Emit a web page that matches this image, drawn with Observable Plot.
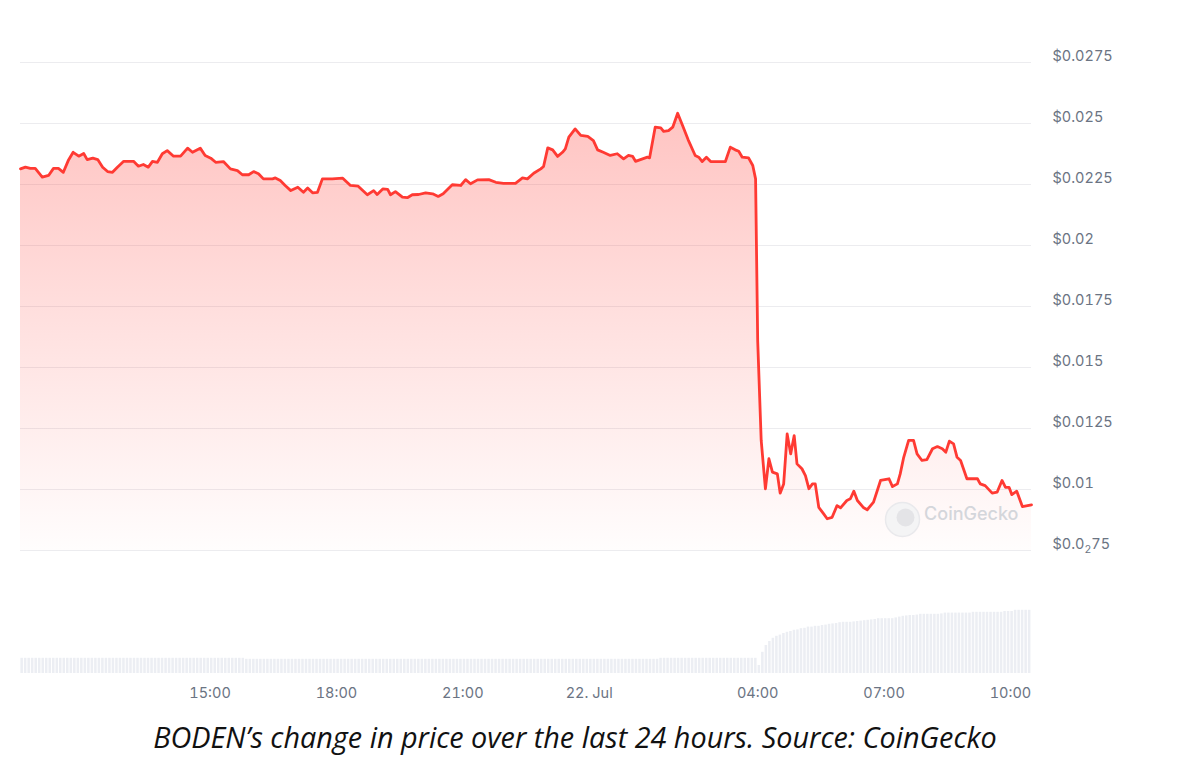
<!DOCTYPE html>
<html><head><meta charset="utf-8">
<script src="https://cdn.jsdelivr.net/npm/d3@7"></script>
<script src="https://cdn.jsdelivr.net/npm/@observablehq/plot@0.6"></script>
<style>
html,body{margin:0;padding:0;background:#fff;}
#wrap{position:relative;width:1180px;height:772px;overflow:hidden;font-family:Inter,"Noto Sans",sans-serif;}
#price{position:absolute;left:0;top:0;}
#vol{position:absolute;left:0;top:560px;}
#caption{position:absolute;left:0;top:717px;width:1150px;text-align:center;font-family:"Open Sans",sans-serif;font-style:italic;font-size:28.8px;line-height:40px;color:#111;}
</style></head>
<body>
<div id="wrap"><div id="price"></div><div id="vol"></div><div id="caption">BODEN’s change in price over the last 24 hours. Source: CoinGecko</div></div>
<script>
// ---- data ----
const startTime = new Date(2024, 6, 21, 10, 30); // 21 Jul 10:30 local
const endTime = new Date(2024, 6, 22, 10, 30);

// minutes after 21 Jul 10:30
const priceMinutes = [0,7,14,21,31,40,47,54,61,68,75,83,90,95,103,110,117,124,131,138,147,157,161,168,175,182,188,195,202,209,218,228,238,245,256,263,271,278,289,299,309,316,325,332,339,346,359,363,370,377,385,395,403,409,416,423,430,444,459,470,481,494,503,508,516,523,527,534,544,551,558,567,577,587,595,602,615,627,634,641,651,667,677,688,705,715,722,731,741,745,751,758,765,772,776,781,790,798,808,816,822,830,840,850,859,866,872,876,886,893,896,904,912,916,923,929,936,943,951,961,966,971,977,983,993,1004,1011,1018,1023,1028,1037,1043,1047,1050,1055,1061,1066,1071,1078,1082,1087,1092,1097,1102,1106,1113,1118,1123,1128,1132,1137,1144,1149,1156,1163,1168,1177,1182,1187,1192,1201,1206,1215,1225,1237,1242,1249,1253,1258,1265,1272,1277,1284,1291,1299,1306,1313,1318,1323,1329,1334,1339,1348,1363,1367,1374,1384,1391,1398,1403,1408,1412,1419,1427,1440];
// price in USD
const prices = [0.02314,0.02321,0.02316,0.02316,0.02280,0.02287,0.02316,0.02316,0.02300,0.02348,0.02382,0.02366,0.02377,0.02352,0.02358,0.02352,0.02321,0.02303,0.02300,0.02321,0.02345,0.02345,0.02345,0.02325,0.02332,0.02321,0.02345,0.02341,0.02376,0.02389,0.02366,0.02366,0.02399,0.02382,0.02399,0.02369,0.02358,0.02341,0.02344,0.02314,0.02307,0.02290,0.02290,0.02303,0.02294,0.02273,0.02273,0.02277,0.02266,0.02246,0.02225,0.02239,0.02218,0.02236,0.02216,0.02218,0.02273,0.02273,0.02276,0.02246,0.02243,0.02208,0.02225,0.02209,0.02232,0.02230,0.02208,0.02221,0.02198,0.02196,0.02208,0.02209,0.02216,0.02212,0.02201,0.02212,0.02249,0.02246,0.02270,0.02253,0.02269,0.02270,0.02259,0.02255,0.02255,0.02277,0.02273,0.02296,0.02314,0.02324,0.02400,0.02392,0.02365,0.02382,0.02396,0.02444,0.02478,0.02451,0.02447,0.02430,0.02392,0.02382,0.02369,0.02376,0.02355,0.02369,0.02365,0.02345,0.02355,0.02362,0.02359,0.02485,0.02482,0.02468,0.02471,0.02485,0.02542,0.02492,0.02433,0.02369,0.02362,0.02344,0.02362,0.02344,0.02344,0.02344,0.02403,0.02392,0.02386,0.02362,0.02359,0.02328,0.02273,0.01611,0.01201,0.01003,0.01126,0.01071,0.01064,0.00985,0.01023,0.01228,0.01146,0.01221,0.01105,0.01085,0.01057,0.01003,0.01023,0.01023,0.00927,0.00900,0.00880,0.00886,0.00934,0.00925,0.00955,0.00962,0.00993,0.00955,0.00925,0.00917,0.00948,0.01037,0.01044,0.01012,0.01023,0.01064,0.01132,0.01201,0.01201,0.01146,0.01119,0.01122,0.01167,0.01176,0.01167,0.01153,0.01198,0.01187,0.01132,0.01119,0.01044,0.01044,0.01023,0.01016,0.00985,0.00989,0.01037,0.01009,0.01009,0.00979,0.00993,0.00930,0.00937];

// 24h volume (million USD), one bar per 5 minutes
const volumeStepMinutes = 5;
const volumes = [
3.8,3.8,3.8,3.8,3.8,3.8,3.8,3.8,3.8,3.8,3.8,3.8,3.8,3.8,3.8,3.8,
3.8,3.8,3.8,3.8,3.8,3.8,3.8,3.8,3.8,3.8,3.8,3.8,3.8,3.8,3.8,3.8,
3.8,3.8,3.8,3.8,3.8,3.8,3.8,3.8,3.8,3.8,3.8,3.8,3.8,3.8,3.8,3.8,
3.8,3.8,3.8,3.8,3.8,3.8,3.8,3.8,3.8,3.8,3.8,3.8,3.8,3.8,3.8,3.8,
3.55,3.55,3.55,3.55,3.55,3.55,3.55,3.55,3.55,3.55,3.55,3.55,3.55,3.55,3.55,3.55,
3.55,3.55,3.55,3.55,3.55,3.55,3.55,3.55,3.55,3.55,3.55,3.55,3.55,3.55,3.55,3.55,
3.55,3.55,3.55,3.55,3.55,3.55,3.55,3.55,3.55,3.55,3.55,3.55,3.55,3.55,3.55,3.55,
3.55,3.55,3.55,3.55,3.55,3.55,3.55,3.55,3.55,3.55,3.55,3.55,3.55,3.55,3.55,3.55,
3.55,3.55,3.55,3.55,3.55,3.55,3.55,3.55,3.55,3.55,3.55,3.55,3.55,3.55,3.55,3.55,
3.55,3.55,3.55,3.55,3.55,3.55,3.55,3.55,3.55,3.55,3.55,3.55,3.55,3.55,3.55,3.55,
3.55,3.55,3.55,3.55,3.55,3.55,3.55,3.55,3.55,3.55,3.55,3.55,3.55,3.55,3.55,3.55,
3.55,3.55,3.55,3.55,3.55,3.55,
3.8,3.8,3.8,3.8,3.8,3.8,3.8,3.8,3.8,3.8,3.8,3.8,3.8,3.8,
3.8,3.8,3.8,3.8,3.8,3.8,3.8,3.8,3.8,3.8,3.8,3.8,3.8,3.8,
2.0,5.3,7.0,8.0,8.8,9.3,9.6,10.0,10.3,10.5,10.8,10.9,11.2,11.3,11.6,11.6,
11.8,11.8,12.0,12.1,12.3,12.4,12.5,12.7,12.8,12.8,12.8,12.9,13.0,13.1,13.2,13.3,
13.4,13.5,13.7,13.7,13.7,13.7,13.7,13.9,14.1,14.3,14.4,14.5,14.5,14.6,14.8,14.8,
14.8,14.8,14.8,14.8,14.9,15.1,15.1,15.1,15.1,15.1,15.1,15.1,15.1,15.3,15.3,15.3,
15.3,15.3,15.3,15.3,15.3,15.3,15.5,15.5,15.5,15.8,15.8,15.8,15.8,15.8
];

const yTicks = [0.0075, 0.01, 0.0125, 0.015, 0.0175, 0.02, 0.0225, 0.025, 0.0275];
const yTickLabels = ["$0.0₂75", "$0.01", "$0.0125", "$0.015", "$0.0175", "$0.02", "$0.0225", "$0.025", "$0.0275"];
const xTickTimes = ["2024-07-21 15:00", "2024-07-21 18:00", "2024-07-21 21:00", "2024-07-22 00:00", "2024-07-22 04:00", "2024-07-22 07:00", "2024-07-22 10:00"];
const xTickLabels = ["15:00", "18:00", "21:00", "22. Jul", "04:00", "07:00", "10:00"];
const watermarkText = "CoinGecko";

// ---- build ----
const MIN = 60000;
const priceData = priceMinutes.map((m, i) => ({t: new Date(+startTime + m * MIN), p: prices[i]}));
const volData = volumes.map((v, i) => ({
  t1: new Date(+startTime + i * volumeStepMinutes * MIN),
  t2: new Date(+startTime + (i + 1) * volumeStepMinutes * MIN),
  v
}));
const parseT = d3.timeParse("%Y-%m-%d %H:%M");
const xTickDates = xTickTimes.map(parseT);
const xDomain = [startTime, endTime];
const labelColor = "#6b7483";
const fontStyle = {fontFamily: "Inter, 'Noto Sans', sans-serif", fontSize: "14.5px", background: "transparent", overflow: "visible"};

const pricePlot = Plot.plot({
  width: 1180, height: 560,
  marginLeft: 20, marginRight: 149, marginTop: 62, marginBottom: 10,
  style: fontStyle,
  x: {type: "time", domain: xDomain, axis: null},
  y: {domain: [yTicks[0], yTicks[yTicks.length - 1]], axis: null},
  marks: [
    Plot.ruleY(yTicks, {stroke: "#ececef"}),
    Plot.areaY(priceData, {x: "t", y1: yTicks[0], y2: "p", fill: "url(#priceGrad)"}),
    Plot.dot([watermarkText], {frameAnchor: "bottom-right", dx: -129, dy: -31, r: 17, fill: "#f4f4f5", stroke: "#e9e9ec", strokeWidth: 1.5}),
    Plot.dot([watermarkText], {frameAnchor: "bottom-right", dx: -126, dy: -33, r: 9, fill: "#e4e4e7"}),
    Plot.text([watermarkText], {frameAnchor: "bottom-right", dx: -13, dy: -31, textAnchor: "end", fontSize: 18, fontWeight: 500, fill: "#d4d6db"}),
    Plot.lineY(priceData, {x: "t", y: "p", stroke: "#ff3a33", strokeWidth: 2.8, strokeLinejoin: "round"}),
    Plot.axisY(yTicks, {anchor: "right", label: null, tickSize: 0, tickPadding: 21, dy: -6, fill: labelColor,
      tickFormat: d => yTickLabels[yTicks.indexOf(d)]})
  ]
});
const defs = document.createElementNS("http://www.w3.org/2000/svg", "defs");
defs.innerHTML = '<linearGradient id="priceGrad" x1="0" y1="0" x2="0" y2="1">' +
  '<stop offset="0" stop-color="#ff3a33" stop-opacity="0.30"/>' +
  '<stop offset="0.5" stop-color="#ff3a33" stop-opacity="0.15"/>' +
  '<stop offset="1" stop-color="#ff3a33" stop-opacity="0.01"/></linearGradient>';
pricePlot.prepend(defs);
// render the subscript zero-count as a real lowered, smaller "2"
pricePlot.querySelectorAll("text").forEach(t => {
  if (t.textContent.includes("₂")) {
    const [a, b] = t.textContent.split("₂");
    t.textContent = "";
    const ns = "http://www.w3.org/2000/svg";
    const s1 = document.createElementNS(ns, "tspan"); s1.textContent = a;
    const s2 = document.createElementNS(ns, "tspan"); s2.textContent = "2";
    s2.setAttribute("font-size", "10.5"); s2.setAttribute("dy", "4");
    const s3 = document.createElementNS(ns, "tspan"); s3.textContent = b; s3.setAttribute("dy", "-4");
    t.append(s1, s2, s3);
  }
});
document.getElementById("price").append(pricePlot);

const volPlot = Plot.plot({
  width: 1180, height: 150,
  marginLeft: 20, marginRight: 149, marginTop: 49, marginBottom: 37,
  style: fontStyle,
  x: {type: "time", domain: xDomain, axis: null},
  y: {domain: [0, 16], axis: null},
  marks: [
    Plot.rectY(volData, {x1: "t1", x2: "t2", y: "v", fill: "#eceef3", insetLeft: 0.4, insetRight: 0.6}),
    Plot.axisX(xTickDates, {anchor: "bottom", label: null, tickSize: 0, tickPadding: 14, fill: labelColor,
      tickFormat: d => xTickLabels[xTickDates.findIndex(t => +t === +d)]})
  ]
});
document.getElementById("vol").append(volPlot);
</script>
</body></html>
